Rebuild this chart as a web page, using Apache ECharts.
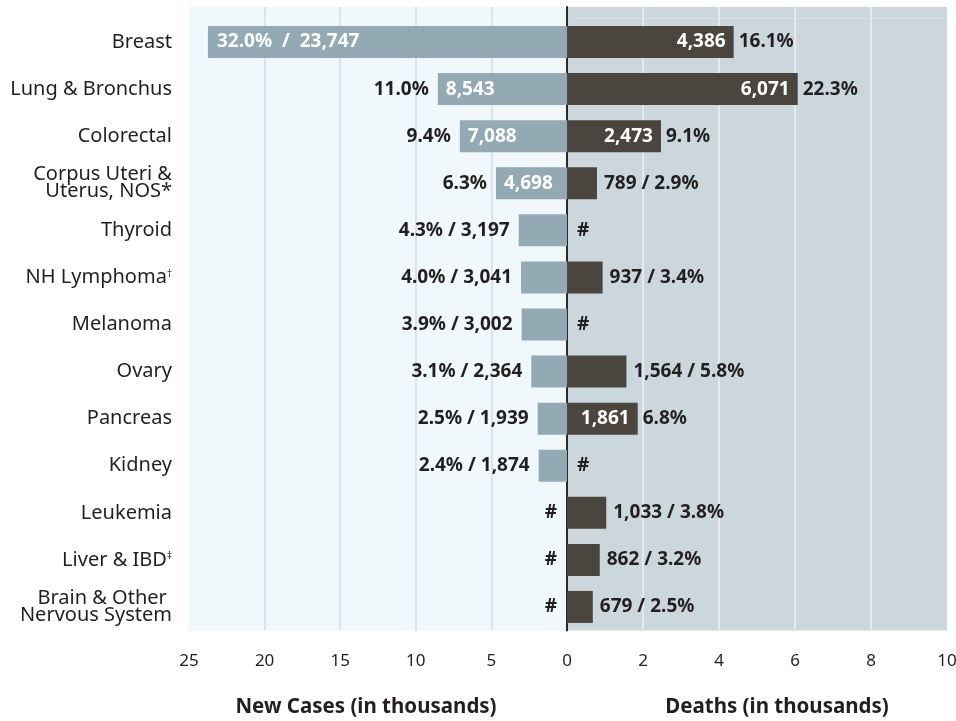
<!DOCTYPE html>
<html><head><meta charset="utf-8">
<script src="https://cdn.jsdelivr.net/npm/echarts@6/dist/echarts.min.js"></script>
<style>html,body{margin:0;padding:0;background:#fff}#c{width:956px;height:721px}</style>
</head><body><div id="c"></div>
<script>
const categories = ['Breast','Lung & Bronchus','Colorectal','Corpus Uteri &\nUterus, NOS*','Thyroid','NH Lymphoma†','Melanoma','Ovary','Pancreas','Kidney','Leukemia','Liver & IBD‡','Brain & Other \nNervous System'];
const newCases = [23747, 8543, 7088, 4698, 3197, 3041, 3002, 2364, 1939, 1874, null, null, null];
const newCasesPct = ['32.0','11.0','9.4','6.3','4.3','4.0','3.9','3.1','2.5','2.4', null, null, null];
const deaths = [4386, 6071, 2473, 789, null, 937, null, 1564, 1861, null, 1033, 862, 679];
const deathsPct = ['16.1','22.3','9.1','2.9', null,'3.4', null,'5.8','6.8', null,'3.8','3.2','2.5'];
const casesTicks = [0,5,10,15,20,25];
const deathsTicks = [0,2,4,6,8,10];

const fmt = n => n.toLocaleString('en-US');
const LF = '"Noto Sans",sans-serif';
const TF = '"Noto Sans",sans-serif';
const DARK = '#231f20';
const LBAR = '#93a9b4', RBAR = '#4a463f';
const LBG = '#f1f8fc', RBG = '#cbd6dd';
const LGRID = '#d2dee6', RGRID = '#eef2f2';
const lbl = {fontFamily: LF, fontWeight: 'bold', fontSize: 19};
const innerColors = (ticks, c) => ticks.map((t, i) => (i === 0 || i === ticks.length - 1) ? 'rgba(0,0,0,0)' : c);

const leftMain = newCases.map((v, i) => {
  const item = {value: v == null ? 0 : v / 1000};
  if (v != null && v > 20000) {
    item.label = {show: true, position: 'insideLeft', distance: 9, color: '#fff', formatter: newCasesPct[i] + '%  /  ' + fmt(v)};
  } else if (v != null && v >= 4000) {
    item.label = {show: true, position: 'insideLeft', distance: 8, color: '#fff', formatter: fmt(v)};
  } else item.label = {show: false};
  return item;
});
const leftOut = newCases.map((v, i) => {
  const item = {value: v == null ? 0 : v / 1000};
  if (v == null) item.label = {show: true, position: 'left', distance: 10, formatter: '#'};
  else if (v > 20000) item.label = {show: false};
  else if (v >= 4000) item.label = {show: true, position: 'left', distance: 9, formatter: newCasesPct[i] + '%'};
  else item.label = {show: true, position: 'left', distance: 9, formatter: newCasesPct[i] + '% / ' + fmt(v)};
  return item;
});
const rightMain = deaths.map((v, i) => {
  const item = {value: v == null ? 0 : v / 1000};
  if (v != null && v >= 1800) item.label = {show: true, position: 'insideRight', distance: 8, color: '#fff', formatter: fmt(v)};
  else item.label = {show: false};
  return item;
});
const rightOut = deaths.map((v, i) => {
  const item = {value: v == null ? 0 : v / 1000};
  if (v == null) item.label = {show: true, position: 'right', distance: 10, formatter: '#'};
  else if (v >= 1800) item.label = {show: true, position: 'right', distance: 5, formatter: deathsPct[i] + '%'};
  else item.label = {show: true, position: 'right', distance: 7, formatter: fmt(v) + ' / ' + deathsPct[i] + '%'};
  return item;
});

const catLabel = v => {
  const m = v.match(/^(.*?)([†‡])$/);
  if (m) return '{a|' + m[1] + '}{s|' + m[2] + '}';
  return v.split('\n').map(t => '{a|' + t + '}').join('\n');
};

const gridBase = {show: true, borderWidth: 0, outerBoundsMode: 'none', containLabel: false};
const chart = echarts.init(document.getElementById('c'), null, {renderer: 'canvas'});
chart.setOption({
  animation: false,
  grid: [
    Object.assign({left: 189, top: 18.5, width: 378, height: 612, backgroundColor: LBG}, gridBase),
    Object.assign({left: 567, top: 18.5, width: 380, height: 612, backgroundColor: RBG}, gridBase),
    Object.assign({left: 189, top: 7, width: 378, height: 11.5, backgroundColor: LBG}, gridBase),
    Object.assign({left: 567, top: 7, width: 380, height: 11.5, backgroundColor: RBG}, gridBase)
  ],
  xAxis: [
    {gridIndex: 0, type: 'value', inverse: true, min: casesTicks[0], max: casesTicks[casesTicks.length-1], interval: 5,
     axisLine: {show: false}, axisTick: {show: false},
     splitLine: {show: true, lineStyle: {color: innerColors(casesTicks, LGRID), width: 1.5}},
     axisLabel: {margin: 22, color: DARK, fontFamily: LF, fontSize: 17},
     name: 'New Cases (in thousands)', nameLocation: 'middle', nameGap: 66,
     nameTextStyle: {fontFamily: TF, fontWeight: 'bold', fontSize: 20.5, color: DARK, padding: [0, 24, 0, 0]}},
    {gridIndex: 1, type: 'value', min: deathsTicks[0], max: deathsTicks[deathsTicks.length-1], interval: 2,
     axisLine: {show: false}, axisTick: {show: false},
     splitLine: {show: true, lineStyle: {color: innerColors(deathsTicks, RGRID), width: 1.5}},
     axisLabel: {margin: 22, color: DARK, fontFamily: LF, fontSize: 17, showMinLabel: false},
     name: 'Deaths (in thousands)', nameLocation: 'middle', nameGap: 66,
     nameTextStyle: {fontFamily: TF, fontWeight: 'bold', fontSize: 20.5, color: DARK, padding: [0, 0, 0, 40]}},
    {gridIndex: 2, type: 'value', inverse: true, min: 0, max: 25, interval: 5, axisLine: {show: false}, axisTick: {show: false}, axisLabel: {show: false},
     splitLine: {show: true, lineStyle: {color: innerColors(casesTicks, LGRID), width: 1.5}}},
    {gridIndex: 3, type: 'value', min: 0, max: 10, interval: 2, axisLine: {show: false}, axisTick: {show: false}, axisLabel: {show: false},
     splitLine: {show: true, lineStyle: {color: innerColors(deathsTicks, RGRID), width: 1.5}}}
  ],
  yAxis: [
    {gridIndex: 0, type: 'category', inverse: true, data: categories,
     axisLine: {show: false}, axisTick: {show: false},
     axisLabel: {margin: 17, formatter: catLabel, align: 'right',
       rich: {a: {fontFamily: TF, fontSize: 20, color: DARK, lineHeight: 17, align: 'right'},
              s: {fontFamily: TF, fontSize: 10, color: DARK, verticalAlign: 'top', lineHeight: 17, padding: [0,0,8,0]}}}},
    {gridIndex: 1, type: 'category', inverse: true, data: categories,
     axisLine: {show: true, lineStyle: {color: '#2b2828', width: 2}}, axisTick: {show: false}, axisLabel: {show: false}},
    {gridIndex: 2, type: 'category', data: [''], axisLine: {show: false}, axisTick: {show: false}, axisLabel: {show: false}},
    {gridIndex: 3, type: 'category', data: [''], axisLine: {show: true, lineStyle: {color: '#2b2828', width: 2}}, axisTick: {show: false}, axisLabel: {show: false}}
  ],
  series: [
    {type: 'bar', xAxisIndex: 0, yAxisIndex: 0, barWidth: 32, data: leftMain, itemStyle: {color: LBAR},
     label: Object.assign({show: true, color: DARK}, lbl), silent: true},
    {type: 'bar', xAxisIndex: 0, yAxisIndex: 0, barWidth: 32, barGap: '-100%', data: leftOut, itemStyle: {color: 'rgba(0,0,0,0)'},
     label: Object.assign({show: true, color: DARK}, lbl), silent: true},
    {type: 'bar', xAxisIndex: 1, yAxisIndex: 1, barWidth: 32, data: rightMain, itemStyle: {color: RBAR},
     label: Object.assign({show: true, color: DARK}, lbl), silent: true},
    {type: 'bar', xAxisIndex: 1, yAxisIndex: 1, barWidth: 32, barGap: '-100%', data: rightOut, itemStyle: {color: 'rgba(0,0,0,0)'},
     label: Object.assign({show: true, color: DARK}, lbl), silent: true}
  ]
});
</script></body></html>
